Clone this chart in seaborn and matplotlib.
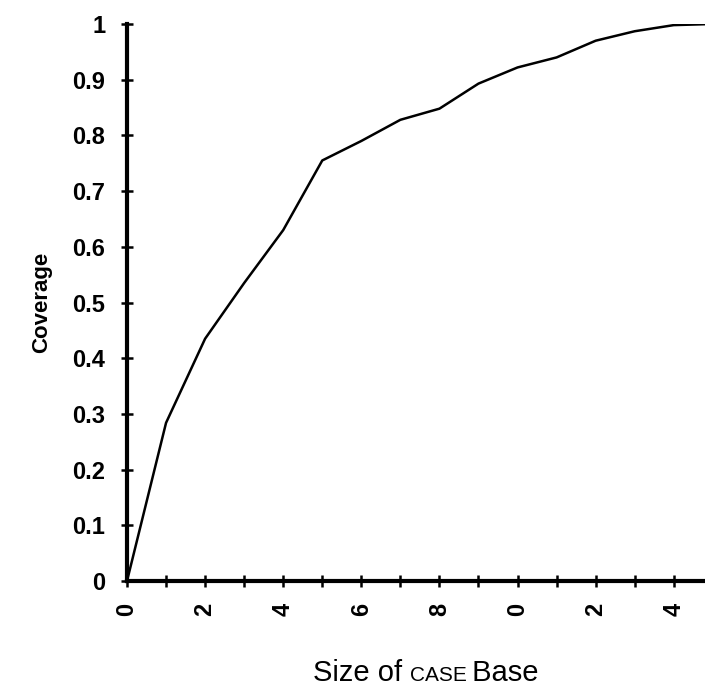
import numpy as np
import pandas as pd
import seaborn as sns
import matplotlib.pyplot as plt
from matplotlib.ticker import MultipleLocator

# values
case_base_size = [0, 1, 2, 3, 4, 5, 6, 7, 8, 9, 10, 11, 12, 13, 14, 15]
coverage = [0.0, 0.284, 0.435, 0.535, 0.63, 0.755, 0.79, 0.828, 0.848, 0.893,
            0.922, 0.94, 0.97, 0.987, 0.998, 1.0]
x_ticks = [0, 2, 4, 6, 8, 10, 12, 14]
x_tick_labels = ['0', '2', '4', '6', '8', '0', '2', '4']
y_ticks = [0, 0.1, 0.2, 0.3, 0.4, 0.5, 0.6, 0.7, 0.8, 0.9, 1.0]
y_tick_labels = ['0', '0.1', '0.2', '0.3', '0.4', '0.5', '0.6', '0.7', '0.8', '0.9', '1']

df = pd.DataFrame({'size': case_base_size, 'coverage': coverage})

sns.set_style('white', {'text.color': 'black', 'xtick.color': 'black', 'ytick.color': 'black',
                        'axes.labelcolor': 'black'})
plt.rcParams['font.family'] = ['Liberation Sans', 'DejaVu Sans']

fig = plt.figure(figsize=(7.05, 6.86), dpi=100)
ax = fig.add_axes([127 / 705, 1 - 581 / 686, 1 - 127 / 705, (581 - 24) / 686])

sns.lineplot(data=df, x='size', y='coverage', color='black', linewidth=1.8, ax=ax)

ax.set_xlim(0, 14.8)
ax.set_ylim(0, 1)
ax.set_xticks(x_ticks)
ax.set_xticklabels(x_tick_labels, rotation=90, fontsize=17, fontweight='bold')
ax.xaxis.set_minor_locator(MultipleLocator(1))
ax.set_yticks(y_ticks)
ax.set_yticklabels(y_tick_labels, fontsize=17, fontweight='bold')

ax.tick_params(axis='both', which='both', direction='inout', length=9, width=1.8,
               color='black', labelcolor='black', bottom=True, left=True)
ax.tick_params(axis='x', pad=11)
ax.tick_params(axis='y', pad=11)

for side in ['top', 'right']:
    ax.spines[side].set_visible(False)
for side in ['left', 'bottom']:
    ax.spines[side].set_color('black')
    ax.spines[side].set_linewidth(3)

ax.set_xlabel('')
ax.set_ylabel('Coverage', fontsize=16, fontweight='heavy', color='black')
ax.yaxis.set_label_coords(-0.13, 0.50)

# x label with the small-caps "CASE"
base_y = 5 / 686
fig.text(0.582, base_y, 'Size of ', fontsize=21, ha='right', va='baseline', color='black')
fig.text(0.582, base_y, 'CASE', fontsize=15, ha='left', va='baseline', color='black')
fig.text(0.658, base_y, ' Base', fontsize=21, ha='left', va='baseline', color='black')

fig.savefig('out.png', dpi=100)
